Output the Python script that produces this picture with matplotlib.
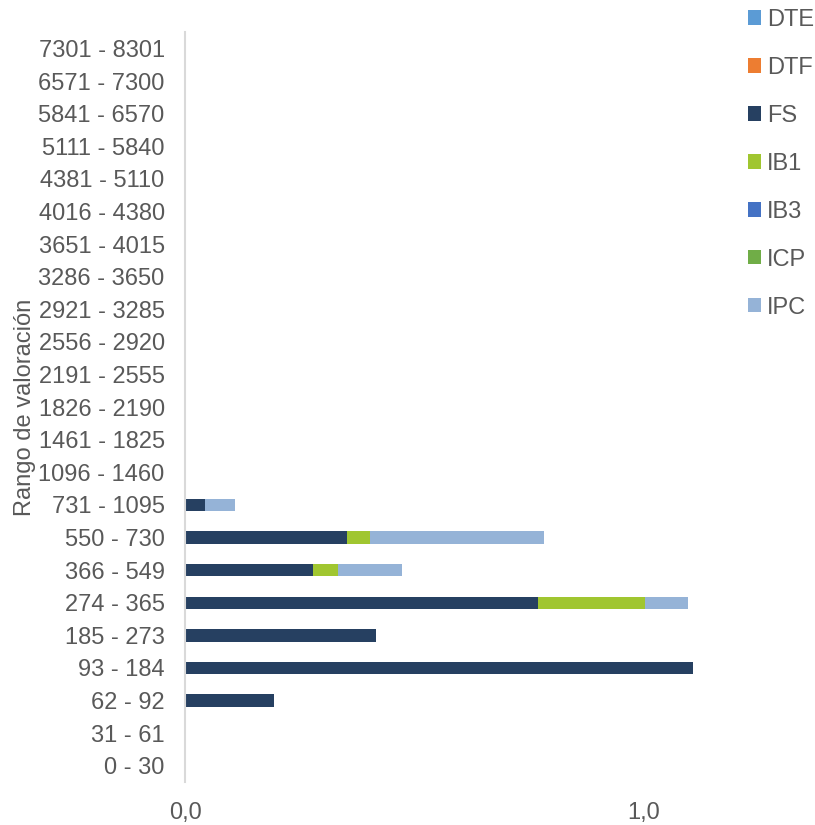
import numpy as np
import matplotlib.pyplot as plt

plt.rcParams['font.family'] = ['Liberation Sans', 'DejaVu Sans']

rangos = ["0 - 30", "31 - 61", "62 - 92", "93 - 184", "185 - 273", "274 - 365",
          "366 - 549", "550 - 730", "731 - 1095", "1096 - 1460", "1461 - 1825",
          "1826 - 2190", "2191 - 2555", "2556 - 2920", "2921 - 3285", "3286 - 3650",
          "3651 - 4015", "4016 - 4380", "4381 - 5110", "5111 - 5840", "5841 - 6570",
          "6571 - 7300", "7301 - 8301"]

series = ["DTE", "DTF", "FS", "IB1", "IB3", "ICP", "IPC"]
colores = ["#5B9BD5", "#ED7D31", "#264061", "#A0C630", "#4472C4", "#70AD47", "#95B3D7"]

n = len(rangos)
dte = [0.0] * n
dtf = [0.0] * n
ib3 = [0.0] * n
icp = [0.0] * n
fs = [0, 0, 0.192, 1.107, 0.415, 0.770, 0.279, 0.352, 0.043] + [0] * 14
ib1 = [0, 0, 0, 0, 0, 0.232, 0.054, 0.050, 0] + [0] * 14
ipc = [0, 0, 0, 0, 0, 0.095, 0.139, 0.380, 0.066] + [0] * 14

valores = [dte, dtf, fs, ib1, ib3, icp, ipc]

fig = plt.figure(figsize=(8.15, 8.25), dpi=100)
ax = fig.add_axes([0.2276, 0.052, 0.675, 0.909])

y = np.arange(n)
left = np.zeros(n)
for nombre, vals, c in zip(series, valores, colores):
    vals = np.array(vals)
    ax.barh(y, vals, left=left, height=0.38, color=c, label=nombre)
    left += vals

ax.set_ylim(-0.5, n - 0.5)
ax.set_xlim(0, 1.2)
ax.set_xticks([0, 1])
ax.set_xticklabels(["0,0", "1,0"])
ax.set_yticks(y)
ax.set_yticklabels(rangos)
ax.tick_params(axis='both', length=0, labelsize=17, colors="#595959")
ax.tick_params(axis='x', pad=14)
ax.tick_params(axis='y', pad=15)
for s in ["top", "right", "bottom"]:
    ax.spines[s].set_visible(False)
ax.spines["left"].set_color("#D9D9D9")
ax.spines["left"].set_linewidth(1.5)
ax.set_ylabel("Rango de valoración", fontsize=17, color="#595959", labelpad=2)

fig.legend(loc="upper left", bbox_to_anchor=(0.892, 1.015), frameon=False,
           fontsize=17, labelcolor="#595959", handlelength=0.55, handleheight=0.55,
           handletextpad=0.25, labelspacing=1.1)

fig.savefig("out.png", dpi=100)
